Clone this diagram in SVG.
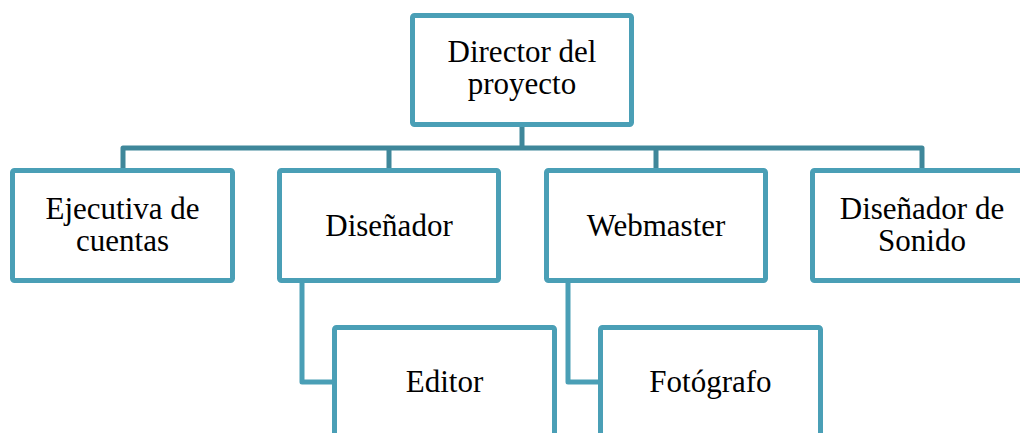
<svg xmlns="http://www.w3.org/2000/svg" width="1020" height="433" viewBox="0 0 1020 433">
<style>
.box{fill:#fff;stroke:#4A9FB6;stroke-width:5;stroke-linejoin:round}
.bus{fill:none;stroke:#3F879A;stroke-width:5;stroke-linejoin:round}
.sub{fill:none;stroke:#4A9FB6;stroke-width:5;stroke-linejoin:round}
text{font-family:"Liberation Serif","Times New Roman",serif;font-size:31px;fill:#000;text-anchor:middle}
</style>
<rect width="1020" height="433" fill="#fff"/>
<g id="connectors">
<path class="bus" d="M522 127V148M123 170V148H922V170M389 148V170M656 148V170"/>
<path class="sub" d="M302 283V382H334M568 283V382H600"/>
</g>
<g id="director"><rect class="box" x="412.5" y="15.5" width="219" height="109" rx="2"/><text x="522" y="62">Director del</text><text x="522" y="94">proyecto</text></g>
<g id="ejecutiva"><rect class="box" x="12.5" y="170.5" width="220" height="110" rx="2"/><text x="122.5" y="219">Ejecutiva de</text><text x="122.5" y="251">cuentas</text></g>
<g id="disenador"><rect class="box" x="279.5" y="170.5" width="219" height="110" rx="2"/><text x="389" y="236">Diseñador</text></g>
<g id="webmaster"><rect class="box" x="546.5" y="170.5" width="219" height="110" rx="2"/><text x="656" y="236">Webmaster</text></g>
<g id="sonido"><rect class="box" x="812.5" y="170.5" width="220" height="110" rx="2"/><text x="922" y="219">Diseñador de</text><text x="922" y="251">Sonido</text></g>
<g id="editor"><rect class="box" x="334.5" y="327.5" width="220" height="120" rx="2"/><text x="444.5" y="392">Editor</text></g>
<g id="fotografo"><rect class="box" x="600.5" y="327.5" width="220" height="120" rx="2"/><text x="710.5" y="392">Fotógrafo</text></g>
</svg>
